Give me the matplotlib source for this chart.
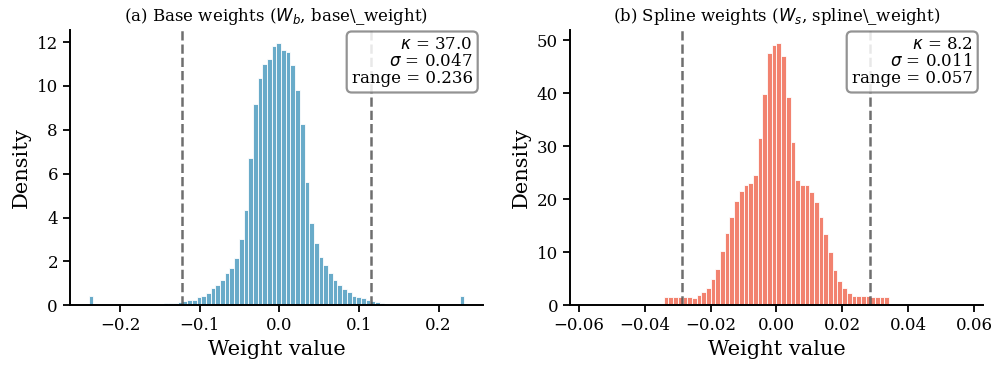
""" Weight distribution histograms: base vs spline weights
"""
import numpy as np
import matplotlib
matplotlib.use("Agg")
import matplotlib.pyplot as plt

# ---- data (pre-binned densities, 80 bins each) ----
base_lo, base_hi = -0.2394, 0.2323
base_density = [0.4] + [0.0] * 12 + [
    0.05, 0.05, 0.07, 0.08, 0.10, 0.11, 0.15, 0.18, 0.26, 0.26,
    0.36, 0.41, 0.54, 0.78, 0.92, 1.14, 1.45, 1.70, 2.17, 3.00,
    4.33, 6.71, 9.16, 10.37, 11.02, 11.23, 11.81, 11.97, 11.66, 11.54,
    10.96, 9.83, 8.28, 5.64, 3.73, 2.82, 2.22, 1.82, 1.47, 1.16,
    0.92, 0.75, 0.60, 0.44, 0.36, 0.32, 0.23, 0.20, 0.14, 0.12,
    0.07, 0.04, 0.02, 0.02] + [0.0] * 12 + [0.4]
base_vlines = [-0.1216, 0.1149]
base_stats = {"kappa": 37.0, "sigma": 0.047, "range": 0.236}

spline_lo, spline_hi = -0.0570, 0.0570
spline_density = [0.15] + [0.0] * 15 + [
    1.6, 1.6, 1.5, 1.5, 1.6, 1.6, 1.4, 1.9, 2.5, 3.3,
    4.9, 6.8, 10.3, 13.6, 16.7, 19.6, 21.6, 22.6, 23.0, 24.5,
    31.5, 39.9, 47.5, 49.0, 49.5, 47.0, 39.3, 30.8, 23.6, 22.6,
    22.6, 21.4, 19.5, 16.6, 13.4, 10.1, 6.7, 4.6, 3.3, 2.3,
    1.8, 1.7, 1.7, 1.7, 1.6, 1.6, 1.6, 1.6] + [0.0] * 15 + [0.05]
spline_vlines = [-0.0286, 0.0284]
spline_stats = {"kappa": 8.2, "sigma": 0.011, "range": 0.057}

titles = [r"(a) Base weights ($W_b$, base\_weight)",
          r"(b) Spline weights ($W_s$, spline\_weight)"]
colors = ["#69abc9", "#f2826f"]

plt.rcParams["font.family"] = ["DejaVu Serif"]
plt.rcParams["mathtext.fontset"] = "dejavusans"


def draw_panel(ax, lo, hi, density, vlines, stats, color, title):
    n_bins = len(density)
    edges = np.linspace(lo, hi, n_bins + 1)
    centers = 0.5 * (edges[:-1] + edges[1:])
    width = edges[1] - edges[0]
    ax.bar(centers, density, width=width, color=color,
           edgecolor="white", linewidth=0.6)
    for xv in vlines:
        ax.axvline(xv, color="#555555", linestyle="--", linewidth=1.8, alpha=0.85)
    txt = (rf"$\kappa$ = {stats['kappa']:.1f}" + "\n"
           + rf"$\sigma$ = {stats['sigma']:.3f}" + "\n"
           + f"range = {stats['range']:.3f}")
    ax.text(0.975, 0.975, txt, transform=ax.transAxes, ha="right", va="top",
            fontsize=12, linespacing=1.0,
            bbox=dict(boxstyle="round,pad=0.3", facecolor="white",
                      edgecolor="gray", linewidth=1.6, alpha=0.85))
    ax.set_title(title, fontsize=12)
    ax.set_xlabel("Weight value", fontsize=15)
    ax.set_ylabel("Density", fontsize=15)
    ax.tick_params(labelsize=12, width=1.3, length=5)
    for side in ["top", "right"]:
        ax.spines[side].set_visible(False)
    for side in ["left", "bottom"]:
        ax.spines[side].set_linewidth(1.4)


fig, axes = plt.subplots(1, 2, figsize=(9.97, 3.7), dpi=100)
draw_panel(axes[0], base_lo, base_hi, base_density, base_vlines,
           base_stats, colors[0], titles[0])
draw_panel(axes[1], spline_lo, spline_hi, spline_density, spline_vlines,
           spline_stats, colors[1], titles[1])
axes[1].set_xticks([-0.06, -0.04, -0.02, 0.0, 0.02, 0.04, 0.06])

plt.subplots_adjust(left=0.07, right=0.986, bottom=0.175, top=0.92, wspace=0.21)
plt.savefig("out.png", dpi=100)
plt.close()
